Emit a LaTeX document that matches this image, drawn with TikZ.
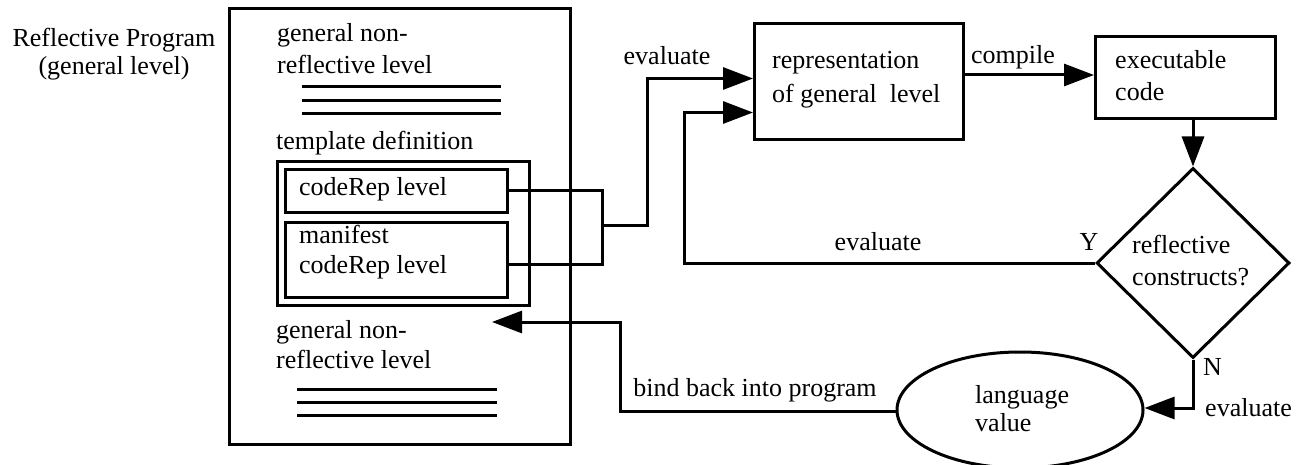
\documentclass[tikz,border=0pt]{standalone}
\usepackage{fontspec}
\setmainfont{Liberation Serif}
\usetikzlibrary{arrows.meta,shapes.geometric}
\tikzset{
  txt/.style={font=\fontsize{26}{31}\selectfont, inner sep=0pt, align=left},
  block/.style={draw, line width=3pt, inner sep=0pt, anchor=north west},
  conn/.style={line width=3pt},
  arr/.style={line width=3pt, -{Triangle[length=30pt,width=22pt]}},
  rule/.style={line width=3pt},
}
\begin{document}
\begin{tikzpicture}[x=1pt,y=-1pt]
\useasboundingbox (0,0) rectangle (1301,465);

% program label
\node[txt, align=center, font=\fontsize{26}{28}\selectfont] (plabel) at (114,54) {Reflective Program\\(general level)};

% program frame
\node[block, minimum width=341pt, minimum height=436pt] (prog) at (228,7) {};
\node[txt, anchor=west, font=\fontsize{26}{32}\selectfont] (top) at (277,49) {general non-\\reflective level};
\draw[rule] (302,87) -- (501,87);
\draw[rule] (302,101) -- (501,101);
\draw[rule] (302,114) -- (501,114);

\node[txt, anchor=west] (tdef) at (276,143) {template definition};
\node[block, minimum width=252pt, minimum height=144pt] (tmpl) at (276,160) {};
\node[block, minimum width=222pt, minimum height=43pt] (cr) at (284,168) {};
\node[txt, anchor=west] at (299,189) {codeRep level};
\node[block, minimum width=222pt, minimum height=75pt] (mf) at (284,221) {};
\node[txt, anchor=west, font=\fontsize{26}{30}\selectfont] at (299,252) {manifest\\codeRep level};

\node[txt, anchor=west, font=\fontsize{26}{30}\selectfont] (bot) at (276,345) {general non-\\reflective level};
\draw[rule] (297,389) -- (497,389);
\draw[rule] (297,402) -- (497,402);
\draw[rule] (297,415) -- (497,415);

% representation and executable code
\node[block, minimum width=209pt, minimum height=116pt] (rep) at (753,22) {};
\node[txt, anchor=west, font=\fontsize{26}{34}\selectfont] at (772,80) {representation\\of general\ \ level};
\node[block, minimum width=180pt, minimum height=82pt] (exe) at (1094,35) {};
\node[txt, anchor=west, font=\fontsize{26}{32}\selectfont] at (1115,76) {executable\\code};

% decision
\node[draw, diamond, line width=3pt, minimum width=193pt, minimum height=190pt, inner sep=0pt] (dia) at (1193,263) {};
\node[txt, anchor=west, font=\fontsize{26}{32}\selectfont] at (1132,261) {reflective\\constructs?};

% result
\node[draw, ellipse, line width=3pt, minimum width=246pt, minimum height=116pt, inner sep=0pt] (val) at (1020,410) {};
\node[txt, anchor=west, font=\fontsize{26}{28}\selectfont] at (975,409) {language\\value};

% connectors
\coordinate (join) at (602,226);
\draw[conn] (cr.east) -| (join);
\draw[conn] ([yshift=-4.5pt]mf.east) -| (join);
\draw[arr] (join) -- ++(45,0) |- ([yshift=3pt]rep.west);
\draw[arr] (dia.west) -- (684,263) |- ([yshift=-31pt]rep.west);
\draw[arr] (rep.east |- 0,75) -- (exe.west |- 0,75);
\draw[arr] (exe.south -| dia.north) -- (dia.north);
\draw[arr] (dia.south) |- ([yshift=2pt]val.east);
\coordinate (back) at (492,322);
\draw[arr] ([yshift=-1pt]val.west) -- (620,411) -- (620,322) -- (back);

% labels
\node[txt] at (667,56) {evaluate};
\node[txt] at (878,242) {evaluate};
\node[txt] at (1089,242) {Y};
\node[txt] at (1013,57) {compile};
\node[txt, anchor=west] at (1203,367) {N};
\node[txt, anchor=west] at (1205,408) {evaluate};
\node[txt] at (755,390) {bind back into program};
\end{tikzpicture}
\end{document}
